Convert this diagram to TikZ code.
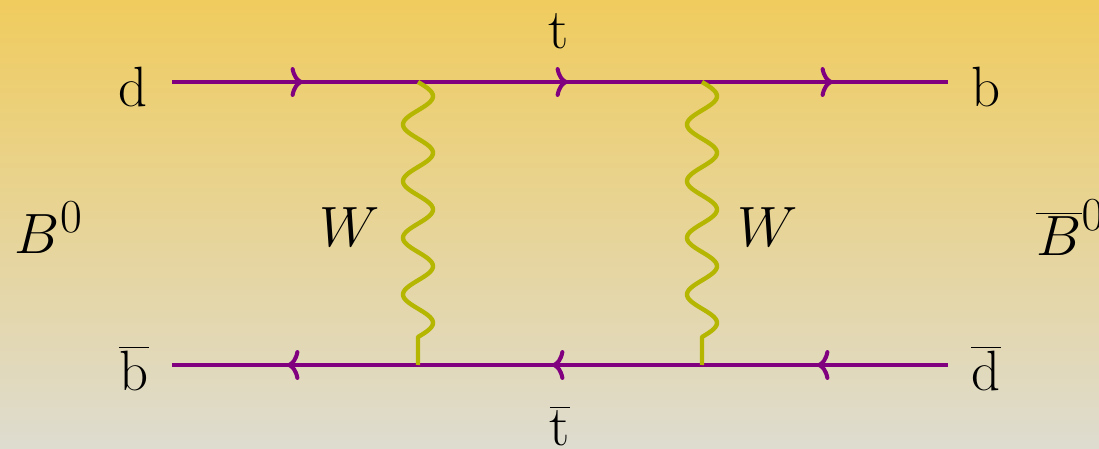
\documentclass[tikz,border=0pt]{standalone}
\usepackage{graphicx}
\usetikzlibrary{arrows.meta,decorations.markings}
\definecolor{fermion}{RGB}{128,0,128}
\definecolor{boson}{RGB}{180,182,0}
\definecolor{bgtop}{RGB}{240,204,94}
\definecolor{bgbot}{RGB}{222,220,208}
\newcommand{\lbltext}[1]{\scalebox{1.3}{\Huge$#1$}}
\tikzset{
  fermionline/.style={draw=fermion, line width=2.3pt, postaction={decorate},
    decoration={markings, mark=at position 0.5 with {\arrow[xshift=4.5pt]{Computer Modern Rightarrow[length=7pt,width=17pt]}}}},
  bosonline/.style={draw=boson, line width=2.5pt, line join=round},
  lbl/.style={inner sep=0pt},
}
\begin{document}
\begin{tikzpicture}[x=0.02cm, y=-0.02cm]
  \shade[top color=bgtop, bottom color=bgbot] (0,0) rectangle (1099,449);
  \useasboundingbox (0,0) rectangle (1099,449);
  \clip (0,0) rectangle (1099,449);
  % coordinates
  \coordinate (tl) at (172,82);
  \coordinate (v1) at (418,82);
  \coordinate (v2) at (702,82);
  \coordinate (tr) at (948,82);
  \coordinate (bl) at (172,365);
  \coordinate (v3) at (418,365);
  \coordinate (v4) at (702,365);
  \coordinate (br) at (948,365);
  % labels
  \node[lbl] (d) at (133,87) {\lbltext{\mathrm{d}}};
  \node[lbl] (b) at (986,87) {\lbltext{\mathrm{b}}};
  \node[lbl] (bbar) at (134,368) {\lbltext{\overline{\mathrm{b}}}};
  \node[lbl] (dbar) at (986,368) {\lbltext{\overline{\mathrm{d}}}};
  \node[lbl] (t) at (559,31) {\lbltext{\mathrm{t}}};
  \node[lbl] (tbar) at (560,426) {\lbltext{\overline{\mathrm{t}}}};
  \node[lbl] (W1) at (350,227) {\lbltext{W}};
  \node[lbl] (W2) at (768,227) {\lbltext{W}};
  \node[lbl] (B0) at (49,228) {\lbltext{B^0}};
  \node[lbl, anchor=west] (B0bar) at (1036,228) {\lbltext{\overline{B}^0}};
  % fermion lines
  \draw[fermionline] (tl) -- (v1);
  \draw[fermionline] (v1) -- (v2);
  \draw[fermionline] (v2) -- (tr);
  \draw[fermionline] (br) -- (v4);
  \draw[fermionline] (v4) -- (v3);
  \draw[fermionline] (v3) -- (bl);
  % bosons
  \draw[bosonline, shift={(v1)}] (0,0) -- plot[domain=0:255, samples=180] ({15*sin(\x/56.67*360)}, \x) -- (v3);
  \draw[bosonline, shift={(v2)}] (0,0) -- plot[domain=0:255, samples=180] ({15*sin(\x/56.67*360)}, \x) -- (v4);
\end{tikzpicture}
\end{document}
